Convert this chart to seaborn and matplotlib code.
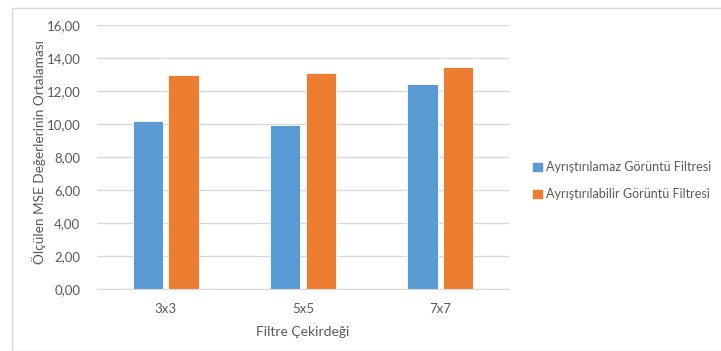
import pandas as pd
import seaborn as sns
import matplotlib.pyplot as plt
from matplotlib.ticker import FuncFormatter, MultipleLocator
from matplotlib.patches import Rectangle

kernels = ["3x3", "5x5", "7x7"]
non_separable = [10.18, 9.94, 12.42]
separable = [12.97, 13.07, 13.44]
series = ["Ayrıştırılamaz Görüntü Filtresi", "Ayrıştırılabilir Görüntü Filtresi"]

df = pd.DataFrame({
    "kernel": kernels * 2,
    "mse": non_separable + separable,
    "filter": [series[0]] * 3 + [series[1]] * 3,
})

sns.set_style("white")
plt.rcParams["font.family"] = ["Lato", "DejaVu Sans"]
text_col = "#595959"

fig = plt.figure(figsize=(7.21, 3.51), dpi=100)
ax = fig.add_axes([97 / 721, 1 - 289 / 351, 412 / 721, 264 / 351])

sns.barplot(data=df, x="kernel", y="mse", hue="filter", order=kernels,
            hue_order=series, palette=["#5B9BD5", "#ED7D31"],
            width=0.52, gap=0.15, ax=ax, legend=False, saturation=1,
            edgecolor="white", linewidth=0.6)

ax.set_ylim(0, 16)
ax.set_xlim(-0.5, 2.5)
ax.yaxis.set_major_locator(MultipleLocator(2))
ax.yaxis.set_major_formatter(FuncFormatter(lambda v, p: f"{v:.2f}".replace(".", ",")))
ax.grid(axis="y", color="#D9D9D9", linewidth=1)
ax.set_axisbelow(True)
for s in ["top", "right", "left"]:
    ax.spines[s].set_visible(False)
ax.spines["bottom"].set_color("#D9D9D9")
ax.tick_params(axis="both", length=0, labelsize=9.5, colors=text_col, pad=10)
ax.tick_params(axis="y", pad=12)
ax.set_xlabel("Filtre Çekirdeği", fontsize=10, color=text_col, labelpad=8)
ax.set_ylabel("Ölçülen MSE Değerlerinin Ortalaması", fontsize=9.8, color=text_col)
ax.yaxis.set_label_coords(-0.125, 0.52)

handles = [Rectangle((0, 0), 1, 1, color=c) for c in ["#5B9BD5", "#ED7D31"]]
fig.legend(handles, series, loc="upper left", bbox_to_anchor=(522 / 721, 1 - 150 / 351),
           frameon=False, fontsize=9, handlelength=0.7, handleheight=0.7,
           handletextpad=0.3, labelspacing=1.2, labelcolor=text_col)

fig.patches.append(Rectangle((12 / 721, 0), 1, 1 - 8 / 351, transform=fig.transFigure,
                             fill=False, edgecolor="#D9D9D9", linewidth=1))

fig.savefig("out.png", dpi=100)
